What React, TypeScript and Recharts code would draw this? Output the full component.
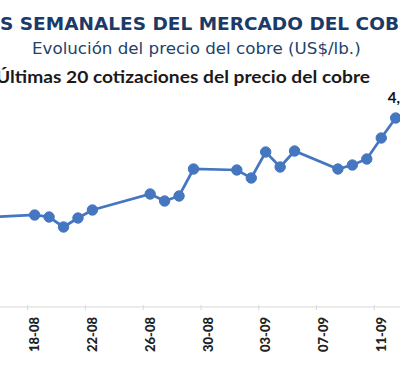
import { LineChart, Line, XAxis, YAxis, LabelList } from "recharts"

// fechas de las ultimas 20 cotizaciones (2025)
const dates = [
  "2025-08-15", "2025-08-18", "2025-08-19", "2025-08-20", "2025-08-21", "2025-08-22",
  "2025-08-26", "2025-08-27", "2025-08-28", "2025-08-29",
  "2025-09-01", "2025-09-02", "2025-09-03", "2025-09-04", "2025-09-05",
  "2025-09-08", "2025-09-09", "2025-09-10", "2025-09-11", "2025-09-12",
]
// US$/lb
const prices = [
  4.38, 4.384, 4.38, 4.36, 4.378, 4.394,
  4.426, 4.412, 4.422, 4.476,
  4.474, 4.458, 4.51, 4.48, 4.512,
  4.476, 4.484, 4.496, 4.538, 4.578,
]
const tickDates = ["2025-08-18", "2025-08-22", "2025-08-26", "2025-08-30", "2025-09-03", "2025-09-07", "2025-09-11"]

const BASE = Date.UTC(2025, 7, 18)
const toDay = (s: string) => Math.round((Date.parse(s + "T00:00:00Z") - BASE) / 86400000)
const dayLabel = (d: number) => {
  const dt = new Date(BASE + d * 86400000)
  const dd = String(dt.getUTCDate()).padStart(2, "0")
  const mm = String(dt.getUTCMonth() + 1).padStart(2, "0")
  return `${dd}-${mm}`
}

const data = dates.map((d, i) => ({ day: toDay(d), price: prices[i] }))
const ticks = tickDates.map(toDay)

const BLUE = "#4576c0"

function DateTick(props: any) {
  const { x, y, payload } = props
  return (
    <g>
      <line x1={x - 7} x2={x - 7} y1={y - 2} y2={y + 3} stroke="#d9d9d9" />
      <text
        x={x}
        y={y + 10}
        transform={`rotate(-90, ${x}, ${y + 10})`}
        dy="0.36em"
        textAnchor="end"
        fontFamily="Lato, sans-serif"
        fontWeight={900}
        fontSize={13}
        fill="#222"
      >
        {dayLabel(payload.value)}
      </text>
    </g>
  )
}

function LastLabel(props: any) {
  const { x, y, value, index } = props
  if (index !== data.length - 1) return null
  return (
    <text x={x + 7} y={y - 15} textAnchor="middle" fontFamily="Lato, sans-serif" fontWeight="bold" fontSize={15} fill="#111">
      {Number(value).toFixed(2).replace(".", ",")}
    </text>
  )
}

export default function App() {
  return (
    <div style={{ position: "absolute", left: 0, top: 0, width: 400, height: 383, overflow: "hidden", background: "#fff" }}>
      <div style={{ position: "absolute", left: -52, top: 0 }}>
        <LineChart width={491} height={367} data={data} margin={{ top: 107, right: 0, bottom: 0, left: 0 }}>
          <XAxis
            type="number"
            dataKey="day"
            domain={[-6, 28]}
            ticks={ticks}
            height={60}
            tickSize={0}
            tickMargin={0}
            tickLine={false}
            axisLine={{ stroke: "#d9d9d9" }}
            tick={<DateTick />}
          />
          <YAxis hide domain={[4.2, 4.6]} />
          <Line
            type="linear"
            dataKey="price"
            stroke={BLUE}
            strokeWidth={2.75}
            dot={{ r: 5.2, fill: BLUE, stroke: BLUE, strokeWidth: 1 }}
            isAnimationActive={false}
          >
            <LabelList dataKey="price" content={<LastLabel />} />
          </Line>
        </LineChart>
      </div>
      <svg width={400} height={383} style={{ position: "absolute", left: 0, top: 0, pointerEvents: "none" }}>
        <text x={0} y={30} fontFamily="DejaVu Sans" fontWeight="bold" fontSize={18.5} fill="#1b3a68">
          S SEMANALES DEL MERCADO DEL COBRE
        </text>
        <text x={32} y={54} fontFamily="DejaVu Sans" fontSize={16.7} fill="#22426b">
          Evolución del precio del cobre (US$/lb.)
        </text>
        <text x={-4} y={83} fontFamily="Lato" fontWeight="bold" fontSize={17} fill="#1a1a1a" textLength={374} lengthAdjust="spacingAndGlyphs">
          Últimas 20 cotizaciones del precio del cobre
        </text>
      </svg>
    </div>
  )
}
